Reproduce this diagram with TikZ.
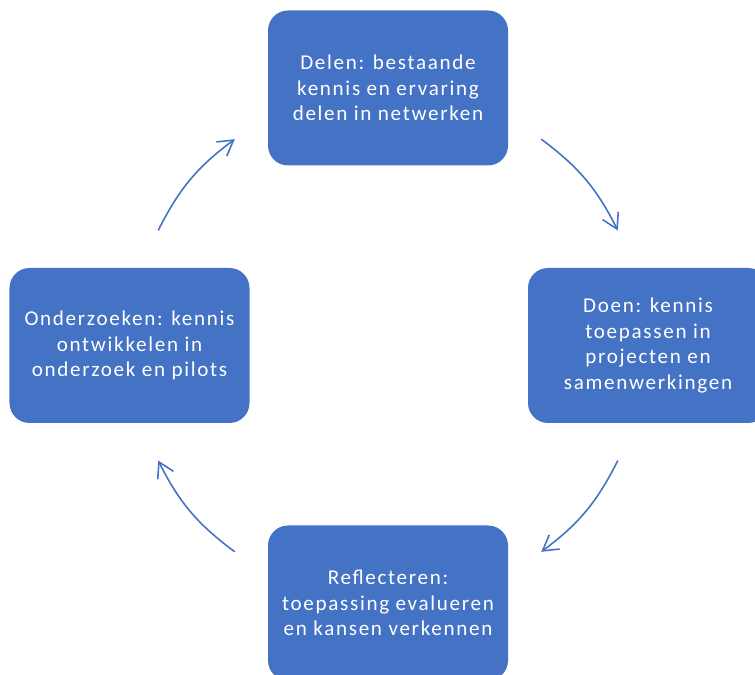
\documentclass[tikz,border=0pt]{standalone}
\usepackage{fontspec}
\setmainfont{Carlito}[LetterSpace=8]
\usetikzlibrary{arrows.meta}
\definecolor{kringblauw}{HTML}{4472C4}
\tikzset{blok/.style={fill=kringblauw, text=white, rounded corners=0.4cm, minimum width=4.8cm, minimum height=3.1cm, align=center, font=\fontsize{12pt}{14.5pt}\selectfont},
  pijl/.style={kringblauw, line width=0.9pt, -{Straight Barb[length=8.5pt,width=10pt]}}}

\begin{document}
\begin{tikzpicture}
  \useasboundingbox (0,0) rectangle (15.1,13.48);
  \node[blok] (delen) at ( 7.76,11.72) {Delen: bestaande\\kennis en ervaring\\delen in netwerken};
  \node[blok] (doen) at (12.96, 6.57) {Doen: kennis\\toepassen in\\projecten en\\samenwerkingen};
  \node[blok] (reflecteren) at ( 7.76, 1.42) {Reflecteren:\\toepassing evalueren\\en kansen verkennen};
  \node[blok] (onderzoeken) at ( 2.59, 6.57) {Onderzoeken: kennis\\ontwikkelen in\\onderzoek en pilots};
  \begin{scope}[shift={(7.76,6.57)}]
   \coordinate (p1) at (  53.4:5.14);
   \coordinate (p2) at (  26.6:5.14);
   \coordinate (p3) at ( -26.6:5.14);
   \coordinate (p4) at ( -53.4:5.14);
   \coordinate (p5) at (-126.6:5.14);
   \coordinate (p6) at (-153.4:5.14);
   \coordinate (p7) at ( 153.4:5.14);
   \coordinate (p8) at ( 126.6:5.14);
  \end{scope}
  \draw[pijl] (p1) to[bend left=13.4] (p2);
  \draw[pijl] (p3) to[bend left=13.4] (p4);
  \draw[pijl] (p5) to[bend left=13.4] (p6);
  \draw[pijl] (p7) to[bend left=13.4] (p8);
\end{tikzpicture}
\end{document}
